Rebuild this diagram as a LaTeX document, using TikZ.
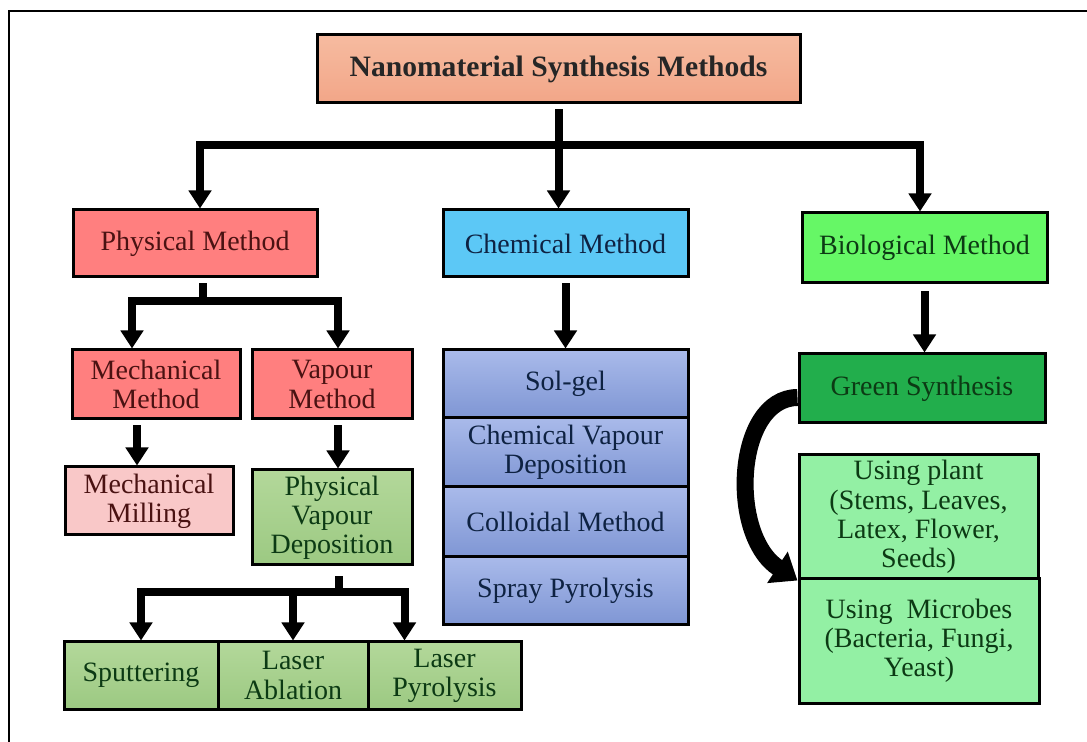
\documentclass[tikz,border=0pt]{standalone}
\usepackage{fontspec}
\setmainfont{Liberation Serif}
\usetikzlibrary{arrows.meta}

\definecolor{titlefill}{HTML}{F2A688}
\definecolor{titletop}{HTML}{F6BBA0}
\definecolor{physfill}{HTML}{FF7F7F}
\definecolor{millfill}{HTML}{F9C8C8}
\definecolor{pvdtop}{HTML}{B3D89A}
\definecolor{pvdbot}{HTML}{9CC982}
\definecolor{chemfill}{HTML}{5CC8F6}
\definecolor{stacktop}{HTML}{A9BAEA}
\definecolor{stackbot}{HTML}{7F96D4}
\definecolor{biofill}{HTML}{66F766}
\definecolor{greenfill}{HTML}{22AE4C}
\definecolor{usefill}{HTML}{93F0A4}
\definecolor{redtext}{HTML}{4A1212}
\definecolor{bluetext}{HTML}{0E2242}
\definecolor{greentext}{HTML}{0C3A14}

\newcommand\boxfont{\fontsize{14}{14.6}\selectfont}
\newcommand\titlefont{\fontsize{14.8}{16}\selectfont\bfseries}

\tikzset{
  box/.style={draw=black, line width=1.5pt, inner sep=0pt, align=center,
              font=\boxfont, text=redtext},
  redbox/.style={box, fill=physfill},
  pvdbox/.style={box, top color=pvdtop, bottom color=pvdbot, text=greentext},
  stackbox/.style={box, top color=stacktop, bottom color=stackbot, text=bluetext,
                   minimum width=122.5pt},
  usebox/.style={box, fill=usefill, text=greentext},
  link/.style={line width=4pt},
  arr/.style={line width=4pt, -{Triangle[width=11pt,length=9pt]}},
  gap/.style={shorten <=2.5pt}
}

\begin{document}
\begin{tikzpicture}[x=0.5pt, y=-0.5pt]
\useasboundingbox (0,0) rectangle (1087,742);

% outer frame (top and left edges)
\draw[line width=1pt] (9,742) -- (9,11) -- (1087,11);

% title
\node[box, top color=titletop, bottom color=titlefill, text=black!85,
      minimum width=241.5pt, minimum height=34pt, font=\titlefont]
      (top) at (558.5,69) {Nanomaterial Synthesis Methods};

% three main branches
\node[redbox, minimum width=122pt, minimum height=33.5pt] (phys) at (195,243.5) {Physical Method};
\node[box, fill=chemfill, text=bluetext, minimum width=122.5pt, minimum height=33.5pt] (chem) at (565.5,243.5) {Chemical Method};
\node[box, fill=biofill, text=greentext, minimum width=122.5pt, minimum height=35pt] (bio) at (924.5,248) {Biological Method};

% physical subtree
\node[redbox, minimum width=84pt, minimum height=34.5pt] (mech) at (156,384.5) {Mechanical\\Method};
\node[redbox, minimum width=80pt, minimum height=34.5pt] (vap) at (332,384.5) {Vapour\\Method};
\node[box, fill=millfill, minimum width=84pt, minimum height=34pt] (mill) at (149,501) {Mechanical\\Milling};
\node[pvdbox, minimum width=80pt, minimum height=47.5pt] (pvd) at (332,517.5) {Physical\\Vapour\\Deposition};
\node[pvdbox, minimum width=77pt, minimum height=33.5pt] (sput) at (141,675.5) {Sputtering};
\node[pvdbox, minimum width=75pt, minimum height=33.5pt] (abl) at (293,675.5) {Laser\\Ablation};
\node[pvdbox, minimum width=76.5pt, minimum height=33.5pt] (pyr) at (444.5,675.5) {Laser\\Pyrolysis};

% chemical stack
\node[stackbox, minimum height=34pt] (sol) at (565.5,384) {Sol-gel};
\node[stackbox, minimum height=34.5pt] (cvd) at (565.5,452.5) {Chemical Vapour\\Deposition};
\node[stackbox, minimum height=35pt] (coll) at (565.5,522) {Colloidal Method};
\node[stackbox, minimum height=34pt] (spray) at (565.5,591) {Spray Pyrolysis};

% biological subtree
\node[box, fill=greenfill, text=greentext, minimum width=123pt, minimum height=34.5pt] (green) at (922,388.5) {Green Synthesis};
\node[usebox, minimum width=119.5pt, minimum height=62pt] (plant) at (918.5,517) {Using plant\\(Stems, Leaves,\\Latex, Flower,\\Seeds)};
\node[usebox, minimum width=120pt, minimum height=62pt] (microbe) at (919,641) {Using\ \ Microbes\\(Bacteria, Fungi,\\Yeast)};

% junctions
\coordinate (j1) at (558.5,145);
\coordinate (j2) at (203,301);
\coordinate (j3) at (339,592);

% title to main branches
\draw[link, gap] (top.south) -- (j1);
\draw[arr] (j1) -| ([xshift=2.5pt]phys.north);
\draw[arr] (j1) -| ([xshift=-2.25pt]bio.north);
\draw[arr] (j1) -- (j1 |- chem.north);

% physical branch
\draw[link, gap] (phys.south -| j2) -- (j2);
\draw[arr] (j2) -| ([xshift=-12pt]mech.north);
\draw[arr] (j2) -| ([xshift=3pt]vap.north);
\draw[arr, gap] ([xshift=-9.5pt]mech.south) -- ([xshift=-9.5pt]mech.south |- mill.north);
\draw[arr, gap] ([xshift=3pt]vap.south) -- ([xshift=3pt]vap.south |- pvd.north);

% physical vapour deposition
\draw[link, shorten <=5pt] (pvd.south -| j3) -- (j3);
\draw[arr] (j3) -| (sput.north);
\draw[arr] (j3) -| (abl.north);
\draw[arr] (j3) -| ([xshift=-20pt]pyr.north);

% chemical branch
\draw[arr, gap] (chem.south) -- (sol.north);

% biological branch
\draw[arr, shorten <=3.5pt] (bio.south) -- (green.north -| bio.south);
\draw[line width=8.5pt, -{Triangle[width=18pt,length=12pt]}]
  ([yshift=-4.5pt]green.west) .. controls (735,398) and (728,535) .. (plant.south west);
\end{tikzpicture}
\end{document}
